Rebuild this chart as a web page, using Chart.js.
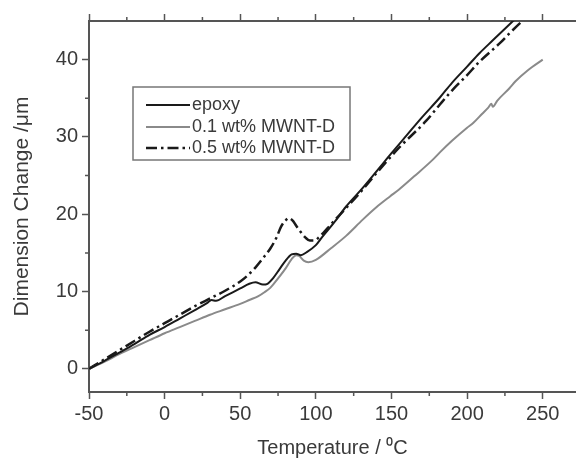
<!DOCTYPE html>
<html>
<head>
<meta charset="utf-8">
<script src="https://cdn.jsdelivr.net/npm/chart.js@4.4.1/dist/chart.umd.min.js"></script>
<style>
  html, body { margin: 0; padding: 0; background: #fff; }
  #wrap { width: 576px; height: 461px; position: relative; }
</style>
</head>
<body>
<div id="wrap"><canvas id="c" width="576" height="461"></canvas></div>
<script>
// ---- data ----
const seriesNames = ['epoxy', '0.1 wt% MWNT-D', '0.5 wt% MWNT-D'];

const epoxyT = [-50,-40,-30,-20,-10,0,10,20,28,31,34,40,50,56,60,65,68,72,76,80,84,87,90,94,100,104,112,120,131,142,150,160,170,182,190,200,208,217,225,232];
const epoxyY = [0,1.0,2.1,3.2,4.4,5.4,6.5,7.6,8.5,8.9,8.8,9.4,10.4,11.0,11.2,10.9,11.0,11.8,12.9,14.0,14.8,14.9,14.7,15.1,16.0,17.0,18.9,21.0,23.4,26.0,27.9,30.2,32.5,35.1,37.0,39.1,40.8,42.5,44.0,45.3];

const mwnt01T = [-50,-40,-30,-20,-10,0,10,20,30,40,50,56,62,66,70,75,80,84,87,89,92,95,100,110,120,131,140,149,155,165,177,182,190,200,204,210,214,216,217,220,228,232,240,250];
const mwnt01Y = [0,0.9,1.9,2.8,3.7,4.6,5.4,6.2,7.0,7.7,8.4,8.9,9.4,9.9,10.5,11.7,13.0,14.2,14.7,14.6,14.0,13.8,14.1,15.6,17.2,19.3,20.9,22.3,23.2,24.9,27.0,28.0,29.5,31.2,31.8,33.0,33.8,34.3,33.9,34.7,36.3,37.2,38.6,40.0];

const mwnt05T = [-50,-40,-30,-20,-10,0,10,20,30,40,50,55,60,65,70,74,77,80,82,85,87,90,93,96,99,102,105,110,120,127,140,155,173,182,190,200,208,222,228,236,240];
const mwnt05Y = [0,1.2,2.4,3.6,4.8,5.9,7.0,8.1,9.1,10.1,11.3,12.1,13.1,14.3,15.6,17.0,18.4,19.2,19.5,19.1,18.5,17.7,17.0,16.6,16.6,17.0,17.6,18.7,20.8,22.3,25.3,28.6,32.1,34.2,36.0,38.0,39.7,42.2,43.4,44.9,45.6];

const xTicks = [-50, 0, 50, 100, 150, 200, 250];
const xMinorTicks = [-25, 25, 75, 125, 175, 225];
const yTicks = [0, 10, 20, 30, 40];
const yMinorTicks = [5, 15, 25, 35];

const xTitle = 'Temperature / \u2070C';
const yTitle = 'Dimension Change /\u03bcm';

// ---- build chart ----
const pts = (xs, ys) => xs.map((x, i) => ({ x: x, y: ys[i] }));
const FONT = "'Liberation Sans', Arial, sans-serif";
const AXIS = '#555';
const TXT = '#3a3a3a';

const minorTicksPlugin = {
  id: 'minorTicks',
  afterDraw(chart) {
    const ctx = chart.ctx, a = chart.chartArea;
    const x = chart.scales.x, y = chart.scales.y;
    ctx.save();
    ctx.strokeStyle = AXIS;
    ctx.lineWidth = 1.5;
    ctx.beginPath();
    xMinorTicks.forEach(v => {
      const px = x.getPixelForValue(v);
      ctx.moveTo(px, a.bottom); ctx.lineTo(px, a.bottom + 4);
      ctx.moveTo(px, a.top); ctx.lineTo(px, a.top - 4);
    });
    yMinorTicks.forEach(v => {
      const py = y.getPixelForValue(v);
      ctx.moveTo(a.left, py); ctx.lineTo(a.left - 4, py);
    });
    ctx.stroke();
    ctx.restore();
  }
};

const boxLegendPlugin = {
  id: 'boxLegend',
  afterDraw(chart) {
    const ctx = chart.ctx;
    const bx = 133, by = 87, bw = 217, bh = 73;
    ctx.save();
    ctx.strokeStyle = '#777';
    ctx.lineWidth = 1.5;
    ctx.strokeRect(bx, by, bw, bh);
    const rows = [105, 127, 148];
    chart.data.datasets.forEach((ds, i) => {
      const yy = rows[i];
      ctx.strokeStyle = ds.borderColor;
      ctx.lineWidth = ds.borderWidth;
      ctx.setLineDash(ds.borderDash || []);
      ctx.beginPath();
      ctx.moveTo(146, yy); ctx.lineTo(190, yy);
      ctx.stroke();
      ctx.setLineDash([]);
      ctx.fillStyle = TXT;
      ctx.font = '18px ' + FONT;
      ctx.textBaseline = 'middle';
      ctx.textAlign = 'left';
      ctx.fillText(ds.label, 192, yy);
    });
    ctx.restore();
  }
};

new Chart(document.getElementById('c'), {
  type: 'line',
  data: {
    datasets: [
      { label: seriesNames[0], data: pts(epoxyT, epoxyY), borderColor: '#1a1a1a', borderWidth: 2, pointRadius: 0, cubicInterpolationMode: 'monotone', fill: false },
      { label: seriesNames[1], data: pts(mwnt01T, mwnt01Y), borderColor: '#8a8a8a', borderWidth: 2, pointRadius: 0, cubicInterpolationMode: 'monotone', fill: false },
      { label: seriesNames[2], data: pts(mwnt05T, mwnt05Y), borderColor: '#1a1a1a', borderWidth: 2.5, borderDash: [11, 4, 2.5, 4], pointRadius: 0, cubicInterpolationMode: 'monotone', fill: false }
    ]
  },
  options: {
    responsive: false,
    animation: false,
    devicePixelRatio: 1,
    layout: { padding: { left: 0, right: 0, top: 0, bottom: 0 } },
    plugins: { legend: { display: false }, tooltip: { enabled: false } },
    scales: {
      x: {
        type: 'linear', position: 'bottom', min: -50, max: 272,
        afterBuildTicks: s => { s.ticks = xTicks.map(v => ({ value: v })); },
        afterFit: s => { s.height = 69; },
        grid: { drawOnChartArea: false, drawTicks: true, tickLength: 7, tickColor: AXIS, tickWidth: 1.5 },
        border: { display: true, color: AXIS, width: 2 },
        ticks: { color: TXT, font: { family: FONT, size: 20 }, padding: 3, maxRotation: 0 },
        title: { display: true, text: xTitle, color: TXT, font: { family: FONT, size: 20 }, padding: { top: 0, bottom: 1 } }
      },
      x2: {
        type: 'linear', position: 'top', min: -50, max: 272,
        afterBuildTicks: s => { s.ticks = xTicks.map(v => ({ value: v })); },
        afterFit: s => { s.height = 21; },
        grid: { drawOnChartArea: false, drawTicks: true, tickLength: 7, tickColor: AXIS, tickWidth: 1.5 },
        border: { display: true, color: AXIS, width: 2 },
        ticks: { display: false }
      },
      y: {
        type: 'linear', position: 'left', min: -3, max: 45,
        afterBuildTicks: s => { s.ticks = yTicks.map(v => ({ value: v })); },
        afterFit: s => { s.width = 89; },
        grid: { drawOnChartArea: false, drawTicks: true, tickLength: 7, tickColor: AXIS, tickWidth: 1.5 },
        border: { display: true, color: AXIS, width: 2 },
        ticks: { color: TXT, font: { family: FONT, size: 20 }, padding: 4 },
        title: { display: true, text: yTitle, color: TXT, font: { family: FONT, size: 21 }, padding: { top: 10, bottom: 0 } }
      }
    }
  },
  plugins: [minorTicksPlugin, boxLegendPlugin]
});
</script>
</body>
</html>
